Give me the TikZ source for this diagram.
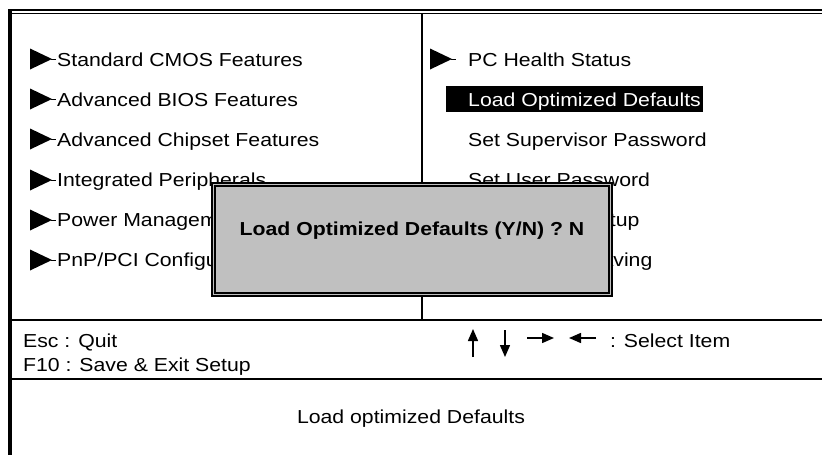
\documentclass[tikz,border=0pt]{standalone}
\usepackage{fontspec}
\newfontfamily\biosfont{Liberation Sans}[FakeStretch=1.13]
\usepackage{tikz}
\usetikzlibrary{positioning,arrows.meta,calc}
\definecolor{dialog}{RGB}{192,192,192}

\begin{document}
\begin{tikzpicture}[
    x=1pt, y=-1pt,
    font=\biosfont\fontsize{18.8}{22}\selectfont,
    item/.style={inner sep=0pt, anchor=base west},
    frame/.style={line width=2.5pt},
    keyarrow/.style={-{Triangle[length=12pt,width=10pt]}, line width=1.5pt},
    menumark/.pic={\fill (0,-10.5) -- (22,0) -- (0,10.5) -- cycle;
                   \draw[line width=0.8pt] (21,0) -- (26,0);},
    confirmbox/.style={draw, line width=1.5pt, fill=dialog, minimum width=400pt, minimum height=113pt}
]
    \useasboundingbox (0,0) rectangle (822,455);

    % Outer frame
    \coordinate (tl) at (10,9);
    \coordinate (bl) at (10,455);
    \draw[line width=2pt] (8,10) -- (822,10);
    \draw[line width=1.5pt] (12,13.3) -- (822,13.3);
    \draw[line width=4pt] (tl) -- (bl);

    % Column divider and footer lines
    \draw[line width=2pt] (422,13) -- (422,320);
    \draw[frame] (12,320) -- (822,320);
    \draw[frame] (12,379) -- (822,379);

    % Left menu
    \pic at (30,59) {menumark};
    \node[item] (cmos) at (57,66) {Standard CMOS Features};
    \pic at (30,99) {menumark};
    \node[item] (bios) at (57,106) {Advanced BIOS Features};
    \pic at (30,139) {menumark};
    \node[item] (chipset) at (57,146) {Advanced Chipset Features};
    \pic at (30,180) {menumark};
    \node[item] (periph) at (57,186) {Integrated Peripherals};
    \pic at (30,220) {menumark};
    \node[item] (power) at (57,226) {Power Management Setup};
    \pic at (30,260) {menumark};
    \node[item] (pnp) at (57,266) {PnP/PCI Configurations};

    % Right menu
    \pic at (430,59) {menumark};
    \node[item] (health) at (468,66) {PC Health Status};
    \fill (446,86) rectangle (703,112);
    \node[item, text=white] (loadopt) at (468,106) {Load Optimized Defaults};
    \node[item] (superpw) at (468,146) {Set Supervisor Password};
    \node[item] (userpw) at (468,186) {Set User Password};
    \node[item] (saveexit) at (468,226) {Save \& Exit Setup};
    \node[item] (exitnosave) at (468,266) {Exit Without Saving};

    % Confirm dialog
    \node[confirmbox] (confirm) at (412,239.5) {};
    \draw[line width=2pt] ($(confirm.north west)+(4,4)$) rectangle ($(confirm.south east)+(-4,-4)$);
    \node[inner sep=0pt, font=\biosfont\bfseries\fontsize{18.8}{22}\selectfont] (confirmtext)
        at ([yshift=8.5pt]confirm.center) {Load Optimized Defaults (Y/N) ? N};

    % Key help
    \node[item] (escquit) at (23,347) {Esc : Quit};
    \node[item] (f10save) at (23,371) {F10 : Save \& Exit Setup};
    \coordinate (upa) at (473,357);  \coordinate (upb) at (473,329);
    \coordinate (dna) at (505,330);  \coordinate (dnb) at (505,357);
    \coordinate (rta) at (527,338);  \coordinate (rtb) at (554,338);
    \coordinate (lta) at (596,338);  \coordinate (ltb) at (569,338);
    \draw[keyarrow] (upa) -- (upb);
    \draw[keyarrow] (dna) -- (dnb);
    \draw[keyarrow] (rta) -- (rtb);
    \draw[keyarrow] (lta) -- (ltb);
    \node[item] (selectitem) at (610,347) {: Select Item};

    % Help line
    \node[inner sep=0pt, anchor=base] (helpline) at (411,423) {Load optimized Defaults};
\end{tikzpicture}
\end{document}
